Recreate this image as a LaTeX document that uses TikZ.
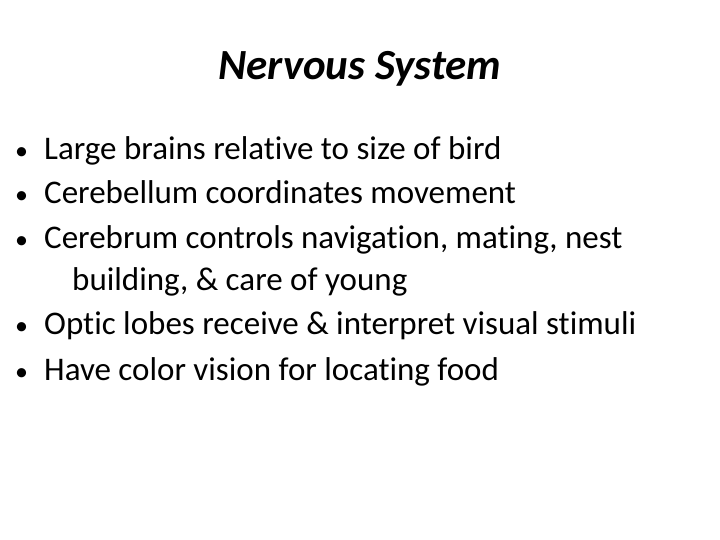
\documentclass[tikz,border=0pt]{standalone}
\usepackage{fontspec}
\setmainfont[RawFeature=-liga]{Carlito}
\begin{document}
\begin{tikzpicture}[x=1pt,y=-1pt,
  txt/.style={anchor=base west,inner sep=0pt,font=\fontsize{33}{38}\selectfont},
  bul/.style={anchor=base west,inner sep=0pt,font=\fontsize{26}{30}\selectfont}]
\useasboundingbox (0,0) rectangle (720,540);
\node[anchor=base,inner sep=0pt,font=\fontsize{43}{50}\selectfont\bfseries\itshape] (title) at (360,80) {Nervous System};
\node[bul] (b1) at (15,160) {•};
\node[txt] (t1) at (44,160) {Large brains relative to size of bird};
\node[bul] (b2) at (15,204) {•};
\node[txt] (t2) at (44,204) {Cerebellum coordinates movement};
\node[bul] (b3) at (15,248) {•};
\node[txt] (t3) at (44,248) {Cerebrum controls navigation, mating, nest};
\node[txt] (t3b) at (72,290) {building, \& care of young};
\node[bul] (b4) at (15,334) {•};
\node[txt] (t4) at (44,334) {Optic lobes receive \& interpret visual stimuli};
\node[bul] (b5) at (15,380) {•};
\node[txt] (t5) at (44,380) {Have color vision for locating food};
\end{tikzpicture}
\end{document}
